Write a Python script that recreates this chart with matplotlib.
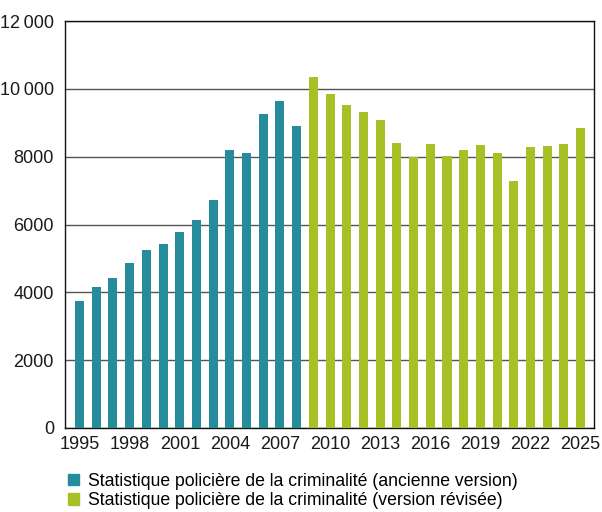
import matplotlib.pyplot as plt
from matplotlib.ticker import FuncFormatter, MultipleLocator
from matplotlib.patches import Patch

plt.rcParams['font.family'] = ['Liberation Sans', 'DejaVu Sans']

# old version of the statistic
years_old = list(range(1995, 2009))
values_old = [3744, 4158, 4424, 4867, 5251, 5429, 5783, 6138, 6729,
              8207, 8118, 9271, 9655, 8916]

# revised version
years_new = list(range(2009, 2026))
values_new = [10335, 9833, 9537, 9330, 9094, 8414, 8000, 8384, 8030,
              8207, 8355, 8118, 7291, 8296, 8325, 8384, 8857]

xticks = list(range(1995, 2026, 3))
labels = ['Statistique policière de la criminalité (ancienne version)',
          'Statistique policière de la criminalité (version révisée)']

teal = '#268c9c'
green = '#a8c026'

fig = plt.figure(figsize=(6.02, 5.12), dpi=100)
ax = fig.add_axes([65 / 602, 1 - 428 / 512, 529 / 602, 407 / 512])

ax.bar(years_old, values_old, width=0.54, color=teal, zorder=3)
ax.bar(years_new, values_new, width=0.54, color=green, zorder=3)

ax.set_xlim(1994.13, 2025.8)
ax.set_ylim(0, 12000)
ax.set_xticks(xticks)
ax.yaxis.set_major_locator(MultipleLocator(2000))


def fmt(v, pos):
    v = int(v)
    if v >= 10000:
        return f'{v // 1000}\u2009{v % 1000:03d}'
    return str(v)


ax.yaxis.set_major_formatter(FuncFormatter(fmt))
ax.tick_params(axis='both', length=0, labelsize=13, colors='#1a1a1a')
ax.tick_params(axis='y', pad=8)
ax.tick_params(axis='x', pad=6)
ax.grid(axis='y', color='#555555', lw=1.0, zorder=1)
for s in ax.spines.values():
    s.set_color('#111111')
    s.set_linewidth(1.0)

handles = [Patch(color=teal), Patch(color=green)]
fig.legend(handles, labels, loc='upper left', bbox_to_anchor=(0.113, 0.076),
           frameon=False, fontsize=12.7, handlelength=0.6, handleheight=0.6,
           handletextpad=0.55, labelspacing=0.12, borderaxespad=0, borderpad=0)

fig.savefig('out.png', dpi=100)
